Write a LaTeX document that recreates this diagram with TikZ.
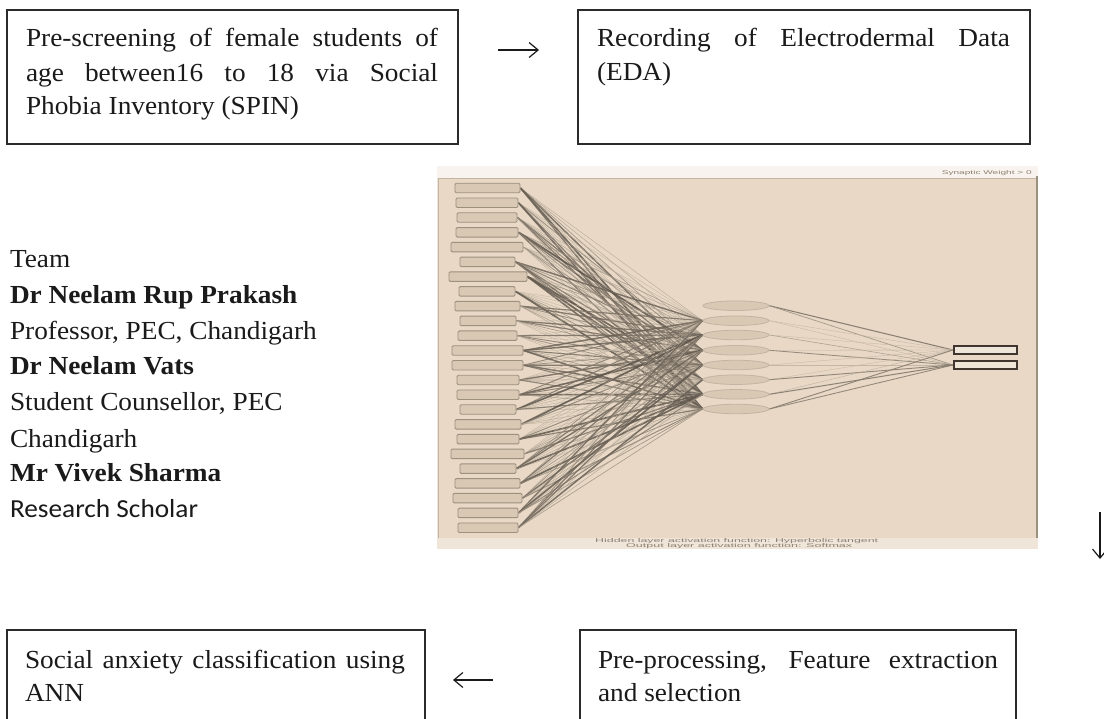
\documentclass[tikz,border=0pt]{standalone}
\usepackage{fontspec}
\setmainfont{Liberation Serif}
\newfontfamily\calibfont{Carlito}
\newfontfamily\capfont{Liberation Sans}
\usetikzlibrary{arrows.meta,shapes.geometric}
\definecolor{nnbg}{HTML}{E8D8C5}
\definecolor{nnband}{HTML}{EFE5D9}
\definecolor{nnbox}{HTML}{D8C8B4}
\definecolor{nnboxline}{HTML}{9C907F}
\definecolor{nndark}{HTML}{524A41}
\definecolor{nnlight}{HTML}{C2B5A3}
\definecolor{nnout}{HTML}{3E362F}
\definecolor{nncap}{HTML}{8E8272}
\definecolor{boxline}{HTML}{2B2B2B}
\definecolor{txt}{HTML}{1A1A1A}
\newcommand\bodysize{\fontsize{26}{30}\selectfont}
\newcommand\sx[1]{\scalebox{1.05}[1]{#1}}
\pgfdeclarelayer{back}
\pgfdeclarelayer{wires}
\pgfsetlayers{back,wires,main}
\begin{document}
\begin{tikzpicture}[x=1pt,y=-1pt,
  flowbox/.style={draw=boxline,line width=1.4pt,inner sep=0pt,outer sep=0pt},
  textline/.style={anchor=base west,inner sep=0pt,outer sep=0pt,font=\bodysize,text=txt},
  flowarrow/.style={line width=1.2pt,draw=txt,-{Straight Barb[length=9pt,width=15pt,line width=1.2pt]}},
  inbox/.style={draw=nnboxline,fill=nnbox,line width=0.9pt,rounded corners=1.2pt,minimum height=9.5pt,inner sep=0pt},
  hidnode/.style={ellipse,draw=nnlight,fill=nnbox,line width=0.8pt,minimum width=66pt,minimum height=9.5pt,inner sep=0pt},
  outnode/.style={draw=nnout,fill=nnband,line width=2pt,minimum width=63pt,minimum height=8pt,inner sep=0pt},
  captext/.style={anchor=base west,inner sep=0pt,text=nncap},
]
\useasboundingbox (0,0) rectangle (1104,719);
\begin{pgfonlayer}{back}
\fill[white] (0,0) rectangle (1104,719);
\fill[nnband] (437,166) rectangle (1038,549);
\fill[white!55!nnband] (437,166) rectangle (1038,178);
\fill[nnbg] (438,178) rectangle (1037,538);
\draw[nnlight,line width=0.8pt] (438,538) -- (438,178) -- (1037,178);
\draw[nnboxline,line width=1.3pt] (1037,176) -- (1037,538);
\end{pgfonlayer}

% ---------- flow boxes ----------
\node[flowbox,minimum width=451pt,minimum height=134pt] (b1) at (232.5,77) {};
\node[flowbox,minimum width=452pt,minimum height=134pt] (b2) at (804,77) {};
\node[flowbox,minimum width=418pt,minimum height=120pt] (b3) at (216,690) {};
\node[flowbox,minimum width=436pt,minimum height=120pt] (b4) at (798,690) {};

\node[textline] (b1l1) at (26,47) {\sx{\makebox[392.4pt][s]{Pre-screening of female students of}}};
\node[textline] (b1l2) at (26,81.5) {\sx{\makebox[392.4pt][s]{age between16 to 18 via Social}}};
\node[textline] (b1l3) at (26,115) {\sx{Phobia Inventory (SPIN)}};

\node[textline] (b2l1) at (597,47) {\sx{\makebox[393.3pt][s]{Recording of Electrodermal Data}}};
\node[textline] (b2l2) at (597,81) {\sx{(EDA)}};

\node[textline] (b3l1) at (25,668) {\sx{\makebox[361.9pt][s]{Social anxiety classification using}}};
\node[textline] (b3l2) at (25,701) {\sx{ANN}};

\node[textline] (b4l1) at (598,668) {\sx{\makebox[381pt][s]{Pre-processing, Feature extraction}}};
\node[textline] (b4l2) at (598,701) {\sx{and selection}};

% ---------- arrows ----------
\coordinate (a1s) at (498,50); \coordinate (a1e) at (539,50);
\coordinate (a2s) at (1100,512); \coordinate (a2e) at (1100,559);
\coordinate (a3s) at (493,680); \coordinate (a3e) at (453,680);
\draw[flowarrow] (a1s) -- (a1e);
\draw[flowarrow] (a2s) -- (a2e);
\draw[flowarrow] (a3s) -- (a3e);

% ---------- team ----------
\node[textline] (t1) at (10,268) {\sx{Team}};
\node[textline,font=\bodysize\bfseries] (t2) at (10,304) {\sx{Dr Neelam Rup Prakash}};
\node[textline] (t3) at (10,340) {\sx{Professor, PEC, Chandigarh}};
\node[textline,font=\bodysize\bfseries] (t4) at (10,375) {\sx{Dr Neelam Vats}};
\node[textline] (t5) at (10,411) {\sx{Student Counsellor, PEC}};
\node[textline] (t6) at (10,447) {\sx{Chandigarh}};
\node[textline,font=\bodysize\bfseries] (t7) at (10,482) {\sx{Mr Vivek Sharma}};
\node[textline,font=\bodysize\calibfont] (t8) at (10,517) {\sx{Research Scholar}};

% ---------- network picture ----------
\foreach \l/\r [count=\i] in {455/520,456/518,457/517,456/518,451/523,460/515,449/527,459/515,455/520,460/516,458/517,452/523,452/523,457/519,457/519,460/516,455/521,457/519,451/524,460/516,455/520,453/522,458/518,458/518}{
  \node[inbox,minimum width={(\r-\l)*1pt}] (in\i) at ({(\l+\r)/2},{188+(\i-1)*14.77}) {};
}
\foreach \y [count=\j] in {305.7,320.7,335,350.3,365,379.7,394.3,409}{
  \node[hidnode] (h\j) at (736,\y) {};
}
\node[outnode] (o1) at (985.5,350) {};
\node[outnode] (o2) at (985.5,365) {};

\pgfmathsetseed{12}
\begin{pgfonlayer}{wires}
\foreach \i in {1,...,24}{
  \foreach \j in {2,...,8}{
    \pgfmathsetmacro\rr{rnd}
    \pgfmathsetmacro\lw{0.35+1.5*\rr*\rr*\rr}
    \pgfmathtruncatemacro\mx{5+90*\rr*\rr}
    \draw[draw=nndark!\mx!nnlight,line width=\lw pt,opacity=0.85] (in\i.east) -- (h\j.west);
  }
}
\foreach \j in {1,...,8}{
  \foreach \k in {1,2}{
    \pgfmathsetmacro\rr{rnd}
    \pgfmathsetmacro\lw{0.35+0.9*\rr*\rr*\rr}
    \pgfmathtruncatemacro\mx{70*\rr*\rr}
    \draw[draw=nndark!\mx!nnlight,line width=\lw pt,opacity=0.9] (h\j.east) -- (o\k.west);
  }
}
\end{pgfonlayer}

\node[captext,anchor=base east] (leg) at (1032,175) {\resizebox{90pt}{4pt}{\capfont Synaptic Weight > 0}};
\node[captext] (cap1) at (595,542.5) {\resizebox{283pt}{4pt}{\capfont Hidden layer activation function: Hyperbolic tangent}};
\node[captext] (cap2) at (626,547.5) {\resizebox{226pt}{4pt}{\capfont Output layer activation function: Softmax}};
\end{tikzpicture}
\end{document}
